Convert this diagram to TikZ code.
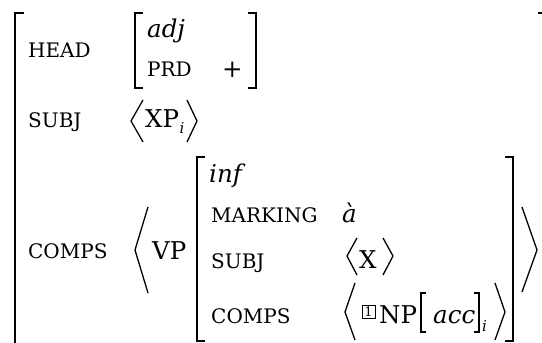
\documentclass[tikz,border=0pt]{standalone}
\usepackage{fontspec}
\setmainfont{DejaVu Serif}
\newcommand{\featfont}{\fontsize{20}{22}\selectfont}
\newcommand{\valfont}{\fontsize{24.5}{28}\selectfont}
\newcommand{\subfont}{\fontsize{15}{17}\selectfont\itshape}
\tikzset{feat/.style={anchor=base west,inner sep=0pt,font=\featfont},
  val/.style={anchor=base west,inner sep=0pt,font=\valfont},
  brack/.style={line width=1.7pt},
  angl/.style={line width=1.3pt}}

\begin{document}
\begin{tikzpicture}[x=1pt,y=-1pt]
\useasboundingbox (0,0) rectangle (542,343);
\clip (0,0) rectangle (542,343);
% outer matrix
\draw [brack] (24,13) -- (15,13) -- (15,360);
\draw [brack] (538,13) -- (547,13) -- (547,360);
\node [feat] (head) at (28,57) {HEAD};
\node [feat] (subj) at (28,127) {SUBJ};
\node [feat] (comps) at (28,258) {COMPS};
% head value
\draw [brack] (143,13) -- (135,13) -- (135,88) -- (143,88);
\draw [brack] (248,13) -- (256,13) -- (256,88) -- (248,88);
\node [val,font=\valfont\itshape] (adj) at (147,37) {adj};
\node [feat] (prd) at (147,76) {PRD};
\node [val] (plus) at (222,77) {+};
% subj value
\draw [angl] (143,100) -- (131,121) -- (143,142);
\node [val] (xp) at (145,127) {XP};
\node [val,font=\subfont] (xpi) at (xp.base east) [yshift=-6pt] {i};
\draw [angl] (187,100) -- (197,121) -- (187,142);
% comps value
\draw [angl] (148,207) -- (135,250) -- (148,293);
\node [val] (vp) at (152,259) {VP};
\draw [brack] (205,157) -- (197,157) -- (197,341) -- (205,341);
\draw [brack] (505,157) -- (513,157) -- (513,341) -- (505,341);
\node [val,font=\valfont\itshape] (inf) at (209,182) {inf};
\node [feat] (marking) at (211,222) {MARKING};
\node [val,font=\valfont\itshape] (a) at (342,222) {à};
\node [feat] (subjvp) at (211,268) {SUBJ};
\draw [angl] (357,238) -- (347,256) -- (357,275);
\node [val] (x) at (359,268) {X};
\draw [angl] (383,238) -- (393,256) -- (383,275);
\node [feat] (compsvp) at (211,323) {COMPS};
\draw [angl] (355,283) -- (345,312) -- (355,340);
\node [draw,line width=0.7pt,minimum size=13pt,inner sep=0pt,
  font=\fontsize{13}{14}\selectfont] (tag) at (368.5,311.5) {1};
\node [val] (np) at (379,323) {NP};
\draw [angl] (426,293) -- (421,293) -- (421,332) -- (426,332);
\node [val,font=\valfont\itshape] (acc) at (433,323) {acc};
\draw [angl] (474,293) -- (479,293) -- (479,332) -- (474,332);
\node [val,font=\subfont] (acci) at (482,331) {i};
\draw [angl] (495,283) -- (505,312) -- (495,340);
\draw [angl] (522,207) -- (537,250) -- (522,292);
\end{tikzpicture}
\end{document}
